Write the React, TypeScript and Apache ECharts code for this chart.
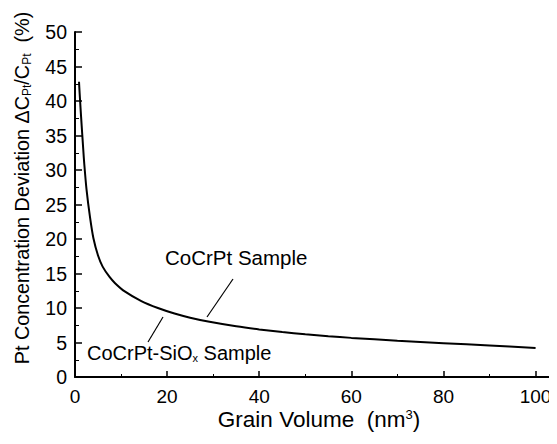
import React, { useEffect, useRef } from "react";
import * as echarts from "echarts";

const grainVolume = [0.87, 1.0, 1.2, 1.45, 1.7, 2.0, 2.5, 3.25, 4.0, 5.0, 6.0, 7.5, 8.7, 10.8, 14.4, 18, 21.6, 25, 29.2, 35, 40, 45, 50, 55, 60, 70, 80, 90, 100];
const deviation = [42.8, 41.2, 39.0, 36.4, 33.9, 31.0, 27.2, 23.2, 20.1, 17.6, 16.0, 14.5, 13.6, 12.4, 11.0, 10.0, 9.2, 8.6, 8.0, 7.35, 6.9, 6.52, 6.2, 5.92, 5.67, 5.26, 4.9, 4.56, 4.22];
const yTicks = [0, 5, 10, 15, 20, 25, 30, 35, 40, 45, 50];
const xTicks = [0, 20, 40, 60, 80, 100];

const FONT = "'Liberation Sans', Arial, sans-serif";

export default function App() {
  const ref = useRef<HTMLDivElement>(null);
  useEffect(() => {
    const chart = echarts.init(ref.current!, null, { renderer: "svg" });
    const data = grainVolume.map((v, i) => [v, deviation[i]]);
    chart.setOption({
      animation: false,
      backgroundColor: "#ffffff",
      grid: { left: 75, top: 32, right: 1, bottom: 67 },
      xAxis: {
        type: "value",
        min: 0,
        max: 104,
        interval: 20,
        axisLine: { show: true, lineStyle: { color: "#000", width: 2 } },
        axisTick: { show: true, inside: true, length: 6, lineStyle: { color: "#000", width: 1.5 } },
        minorTick: { show: true, splitNumber: 2, length: 3, lineStyle: { color: "#000", width: 1 } },
        splitLine: { show: false },
        axisLabel: {
          color: "#000",
          fontSize: 19,
          fontFamily: FONT,
          margin: 10,
          formatter: (v: number) => (xTicks.includes(v) ? String(v) : ""),
        },
      },
      yAxis: {
        type: "value",
        min: 0,
        max: 50,
        interval: 5,
        axisLine: { show: true, lineStyle: { color: "#000", width: 2 } },
        axisTick: { show: true, inside: true, length: 7, lineStyle: { color: "#000", width: 1.5 } },
        minorTick: { show: true, splitNumber: 2, length: 4, lineStyle: { color: "#000", width: 1 } },
        splitLine: { show: false },
        axisLabel: {
          color: "#000",
          fontSize: 19.5,
          fontFamily: FONT,
          margin: 8,
          formatter: (v: number) => (yTicks.includes(v) ? String(v) : ""),
        },
      },
      series: [
        {
          type: "line",
          data,
          smooth: 0.3,
          showSymbol: false,
          lineStyle: { color: "#000", width: 2 },
        },
      ],
      graphic: [
        {
          type: "text",
          x: 22,
          y: 188,
          rotation: Math.PI / 2,
          style: {
            text: "Pt Concentration Deviation \u0394C{sub|Pt}/C{sub|Pt}  (%)",
            fontSize: 19.8,
            fontFamily: FONT,
            fill: "#000",
            align: "center",
            verticalAlign: "middle",
            rich: { sub: { fontSize: 12, fontFamily: FONT, fill: "#000", padding: [9, 0, 0, 0] } },
          },
        },
        {
          type: "text",
          x: 319,
          y: 419,
          style: {
            text: "Grain Volume  (nm{sup|3})",
            fontSize: 22.5,
            fontFamily: FONT,
            fill: "#000",
            align: "center",
            verticalAlign: "middle",
            rich: { sup: { fontSize: 13, fontFamily: FONT, fill: "#000", verticalAlign: "top" } },
          },
        },
        {
          type: "text",
          left: 165,
          top: 247,
          style: { text: "CoCrPt Sample", fontSize: 20.5, fontFamily: FONT, fill: "#000" },
        },
        {
          type: "line",
          shape: { x1: 233, y1: 279, x2: 207, y2: 317 },
          style: { stroke: "#000", lineWidth: 1.2 },
        },
        {
          type: "text",
          left: 87,
          top: 343,
          style: {
            text: "CoCrPt-SiO{sub|x} Sample",
            fontSize: 20,
            fontFamily: FONT,
            fill: "#000",
            rich: { sub: { fontSize: 11, fontFamily: FONT, fill: "#000", padding: [10, 0, 0, 0] } },
          },
        },
        {
          type: "line",
          shape: { x1: 163, y1: 317, x2: 148, y2: 342 },
          style: { stroke: "#000", lineWidth: 1.2 },
        },
      ],
    });
    return () => chart.dispose();
  }, []);
  return <div ref={ref} style={{ width: 557, height: 444, margin: -8 }} />;
}
